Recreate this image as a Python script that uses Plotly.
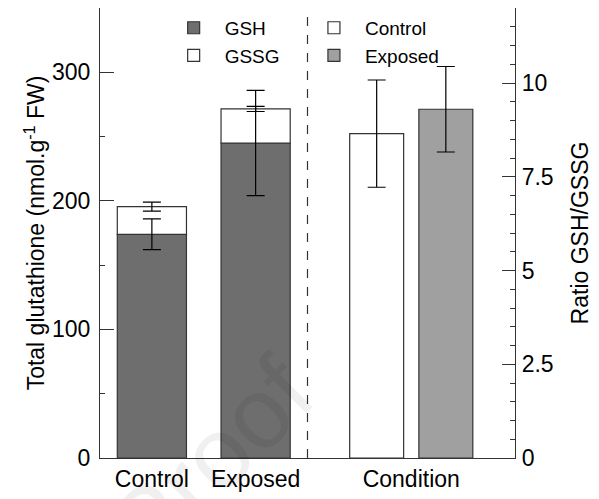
import plotly.graph_objects as go

# ---- data ----
groups = ["Control", "Exposed"]
gsh = [174, 245]          # nmol/g FW
gsh_err = [12, 41]
gssg = [21.5, 26.5]       # stacked on top of GSH
gssg_err = [3.5, 2.0]
ratio = [8.65, 9.30]      # GSH/GSSG
ratio_err = [1.43, 1.14]

x_left = [0.75, 2.25]
x_right = [4, 5]
divider_x = 3
xtick_vals = [0.75, 2.25, 4.5]
xtick_text = ["Control", "Exposed", "Condition"]
left_ticks = [0, 100, 200, 300]
right_ticks = [0, 2.5, 5, 7.5, 10]
right_ticktext = ["0", "2.5", "5", "7.5", "10"]

totals = [a + b for a, b in zip(gsh, gssg)]

FONT = "Liberation Sans, Arial, sans-serif"
LINE = "#333333"
err_style = dict(type="data", color="black", thickness=1.2, width=9)

fig = go.Figure()

# stacked glutathione bars
fig.add_trace(go.Bar(x=x_left, y=gsh, width=1.0, name="GSH",
                     marker=dict(color="#6e6e6e", line=dict(color=LINE, width=1.2)),
                     legend="legend"))
fig.add_trace(go.Bar(x=x_left, y=gssg, base=gsh, width=1.0, name="GSSG",
                     marker=dict(color="white", line=dict(color=LINE, width=1.2)),
                     legend="legend"))
# error bars
fig.add_trace(go.Scatter(x=x_left, y=gsh, mode="markers", marker=dict(opacity=0, size=1),
                         error_y=dict(array=gsh_err, **err_style), showlegend=False))
fig.add_trace(go.Scatter(x=x_left, y=totals, mode="markers", marker=dict(opacity=0, size=1),
                         error_y=dict(array=gssg_err, **err_style), showlegend=False))

# ratio bars on right axis
fig.add_trace(go.Bar(x=[x_right[0]], y=[ratio[0]], width=0.78, name="Control", yaxis="y2",
                     marker=dict(color="white", line=dict(color=LINE, width=1.2)),
                     error_y=dict(array=[ratio_err[0]], **err_style),
                     legend="legend2"))
fig.add_trace(go.Bar(x=[x_right[1]], y=[ratio[1]], width=0.78, name="Exposed", yaxis="y2",
                     marker=dict(color="#a0a0a0", line=dict(color=LINE, width=1.2)),
                     error_y=dict(array=[ratio_err[1]], **err_style),
                     legend="legend2"))

fig.add_shape(type="line", xref="x", yref="paper", x0=divider_x, x1=divider_x, y0=0, y1=1,
              line=dict(color="#333333", width=1.2, dash="dash"))

# faint watermark
fig.add_annotation(text="Proof", xref="paper", yref="paper",
                   x=(210 - 100) / 415, y=(458 - 460) / 450,
                   xanchor="center", yanchor="middle",
                   showarrow=False, textangle=-45,
                   font=dict(family=FONT, size=100, color="rgba(0,0,0,0.06)"))

# the page body adds an 8px offset, so the figure is 8px smaller than the window
fig.update_layout(
    width=591, height=491,
    margin=dict(l=92, r=84, t=0, b=41, autoexpand=False),
    plot_bgcolor="white", paper_bgcolor="white",
    font=dict(family=FONT, size=23, color="black"),
    barmode="overlay",
    xaxis=dict(range=[0, 6], tickvals=xtick_vals, ticktext=xtick_text, ticks="",
               showline=True, linecolor=LINE, linewidth=1.2, mirror=True, automargin=False,
               showgrid=False, zeroline=False, tickfont=dict(size=23)),
    yaxis=dict(range=[0, 350], tickvals=left_ticks, ticks="inside", ticklen=14,
               tickcolor=LINE, tickwidth=1.2, automargin=False, ticklabelstandoff=4,
               minor=dict(dtick=50, tick0=0, ticks="inside", ticklen=5, tickcolor=LINE, tickwidth=1.2),
               showline=True, linecolor=LINE, linewidth=1.2, showgrid=False, zeroline=False,
               tickfont=dict(size=23),
               title=dict(text="Total glutathione (nmol.g<sup>-1</sup> FW)", font=dict(size=23), standoff=0)),
    yaxis2=dict(range=[0, 12], overlaying="y", side="right", tickvals=right_ticks,
                ticktext=right_ticktext, ticks="inside", ticklen=13, tickcolor=LINE, tickwidth=1.2,
                automargin=False, ticklabelstandoff=1,
                minor=dict(dtick=0.5, tick0=0, ticks="inside", ticklen=5, tickcolor=LINE, tickwidth=1.2),
                showline=True, linecolor=LINE, linewidth=1.2, showgrid=False, zeroline=False,
                tickfont=dict(size=23),
                title=dict(text="Ratio GSH/GSSG", font=dict(size=23), standoff=19)),
    legend=dict(x=0.151, y=0.998, xanchor="left", yanchor="top", itemwidth=52,
                font=dict(size=19), bgcolor="rgba(0,0,0,0)", traceorder="normal",
                tracegroupgap=0),
    legend2=dict(x=0.489, y=0.998, xanchor="left", yanchor="top", itemwidth=52,
                 font=dict(size=19), bgcolor="rgba(0,0,0,0)", traceorder="normal",
                 tracegroupgap=0),
    showlegend=True,
)

fig.write_html("out.html")
